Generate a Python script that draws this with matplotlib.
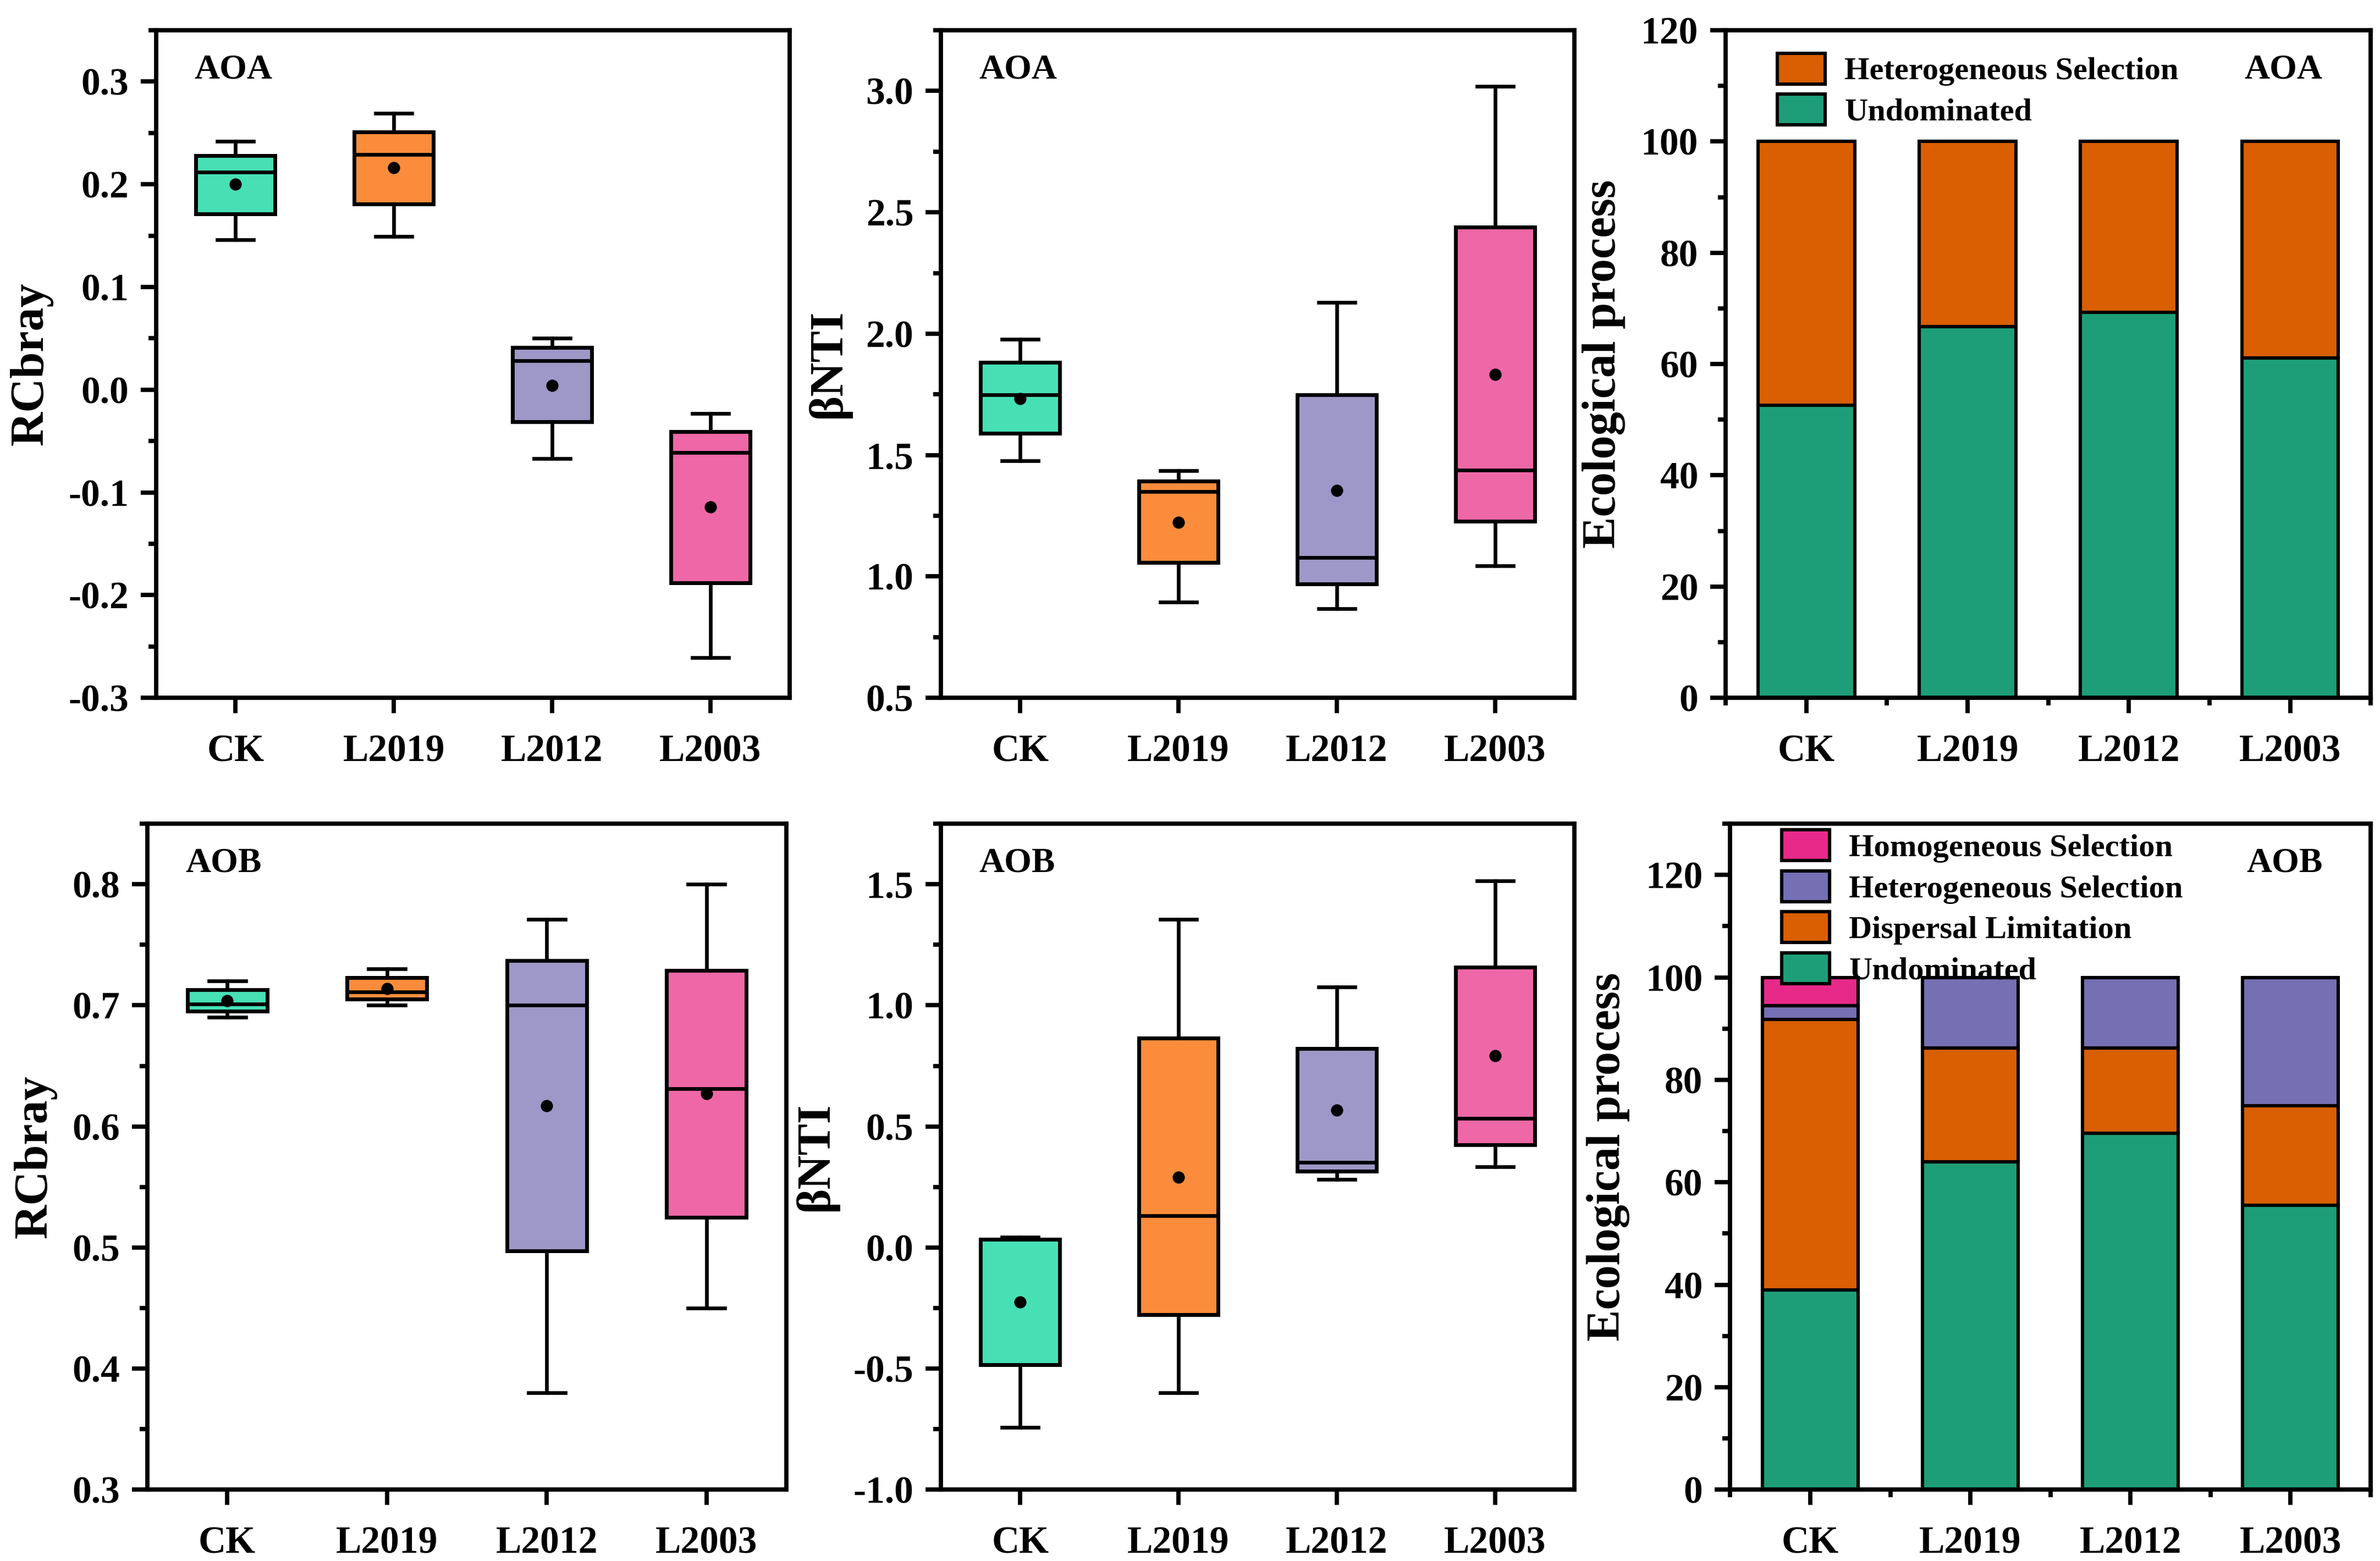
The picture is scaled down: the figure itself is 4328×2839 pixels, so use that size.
import numpy as np
import matplotlib
matplotlib.use('Agg')
from matplotlib import pyplot as plt
from matplotlib.ticker import AutoMinorLocator, FixedLocator, MultipleLocator
from matplotlib.patches import Patch

plt.rcParams['font.family'] = ['Liberation Serif', 'DejaVu Serif']
plt.rcParams['font.weight'] = 'bold'
plt.rcParams['axes.labelweight'] = 'bold'

groups = ['CK', 'L2019', 'L2012', 'L2003']
box_colors = ['#47E0B5', '#FB8C3C', '#9E98C8', '#EE67A6']

# box stats: whislo, q1, med, q3, whishi, mean
rc_aoa = [[0.146, 0.171, 0.212, 0.228, 0.242, 0.200],
          [0.149, 0.181, 0.229, 0.251, 0.269, 0.216],
          [-0.067, -0.031, 0.028, 0.041, 0.050, 0.004],
          [-0.261, -0.188, -0.061, -0.041, -0.023, -0.114]]
nti_aoa = [[1.477, 1.589, 1.749, 1.881, 1.978, 1.733],
           [0.894, 1.058, 1.349, 1.392, 1.436, 1.223],
           [0.866, 0.969, 1.077, 1.749, 2.129, 1.355],
           [1.044, 1.227, 1.438, 2.439, 3.018, 1.832]]
rc_aob = [[0.690, 0.695, 0.701, 0.713, 0.720, 0.704],
          [0.700, 0.705, 0.711, 0.723, 0.730, 0.714],
          [0.380, 0.497, 0.700, 0.737, 0.771, 0.617],
          [0.450, 0.525, 0.631, 0.729, 0.800, 0.627]]
nti_aob = [[-0.743, -0.483, 0.034, 0.034, 0.042, -0.224],
           [-0.600, -0.277, 0.131, 0.864, 1.356, 0.291],
           [0.281, 0.316, 0.351, 0.822, 1.076, 0.567],
           [0.334, 0.425, 0.534, 1.158, 1.514, 0.792]]

# ecological process (%)
aoa_undom = [52.6, 66.7, 69.3, 61.1]
aoa_hetero = [47.4, 33.3, 30.7, 38.9]
aob_undom = [39.0, 64.0, 69.6, 55.5]
aob_disp = [52.8, 22.2, 16.6, 19.5]
aob_hetero = [2.7, 13.8, 13.8, 25.0]
aob_homo = [5.5, 0.0, 0.0, 0.0]

c_undom = '#1E9E78'
c_disp = '#D95F02'
c_hetero = '#7570B3'
c_homo = '#E7298A'

fig = plt.figure(figsize=(21.64, 14.195), dpi=200)

LW = 2.8
TICK_FS = 25
LAB_FS = 31


def style(ax):
    for s in ax.spines.values():
        s.set_linewidth(LW)
    ax.tick_params(axis='both', which='major', direction='out', length=10,
                   width=LW, labelsize=TICK_FS, pad=8)
    ax.tick_params(axis='both', which='minor', direction='out', length=5,
                   width=LW)
    ax.tick_params(axis='x', pad=14)


def boxpanel(rect, data, ylim, step, ylabel, tag):
    ax = fig.add_axes(rect)
    stats = []
    for d in data:
        stats.append(dict(whislo=d[0], q1=d[1], med=d[2], q3=d[3],
                          whishi=d[4], mean=d[5], fliers=[]))
    bp = ax.bxp(stats, positions=[1, 2, 3, 4], widths=0.5, patch_artist=True,
                showmeans=True, capwidths=0.23,
                boxprops=dict(linewidth=2.5, edgecolor='black'),
                medianprops=dict(color='black', linewidth=2.4),
                whiskerprops=dict(color='black', linewidth=2.4),
                capprops=dict(color='black', linewidth=2.4),
                meanprops=dict(marker='o', markerfacecolor='black',
                               markeredgecolor='black', markersize=7))
    for patch, c in zip(bp['boxes'], box_colors):
        patch.set_facecolor(c)
    ax.set_xlim(0.5, 4.5)
    ax.set_ylim(*ylim)
    ax.yaxis.set_major_locator(MultipleLocator(step))
    ax.yaxis.set_minor_locator(AutoMinorLocator(2))
    ax.set_xticks([1, 2, 3, 4])
    ax.set_xticklabels(groups)
    ax.yaxis.set_major_formatter(matplotlib.ticker.FormatStrFormatter('%.1f'))
    ax.set_ylabel(ylabel, fontsize=LAB_FS, labelpad=10)
    ax.text(0.06, 0.94, tag, transform=ax.transAxes, fontsize=23,
            fontweight='bold', va='center', ha='left')
    style(ax)
    return ax


def barpanel(rect, layers, ylim, tag, leg_y):
    ax = fig.add_axes(rect)
    x = np.arange(1, 5)
    bottom = np.zeros(4)
    handles = []
    for vals, c, name in layers:
        ax.bar(x, vals, width=0.6, bottom=bottom, color=c, edgecolor='black',
               linewidth=2.2)
        bottom = bottom + np.array(vals)
        handles.append(Patch(facecolor=c, edgecolor='black', linewidth=2.2,
                             label=name))
    ax.set_xlim(0.5, 4.5)
    ax.set_ylim(*ylim)
    ax.yaxis.set_major_locator(MultipleLocator(20))
    ax.yaxis.set_minor_locator(MultipleLocator(10))
    ax.set_xticks(x)
    ax.set_xticklabels(groups)
    ax.xaxis.set_minor_locator(FixedLocator([0.5, 1.5, 2.5, 3.5, 4.5]))
    ax.set_ylabel('Ecological process', fontsize=LAB_FS, labelpad=10)
    ax.text(0.925, 0.94, tag, transform=ax.transAxes, fontsize=23,
            fontweight='bold', va='center', ha='right')
    ax.legend(handles=handles[::-1], loc='upper left',
              bbox_to_anchor=(0.06, leg_y), frameon=False,
              fontsize=21, handlelength=1.5, handleheight=1.1,
              labelspacing=0.25, handletextpad=0.6, borderaxespad=0)
    style(ax)
    return ax


boxpanel([0.0657, 0.553, 0.266, 0.4276], rc_aoa, (-0.3, 0.35), 0.1,
         'RCbray', 'AOA')
boxpanel([0.3954, 0.553, 0.266, 0.4276], nti_aoa, (0.5, 3.25), 0.5,
         'βNTI', 'AOA')
barpanel([0.7251, 0.553, 0.271, 0.4276],
         [(aoa_undom, c_undom, 'Undominated'),
          (aoa_hetero, c_disp, 'Heterogeneous Selection')],
         (0, 120), 'AOA', 0.985)

boxpanel([0.0619, 0.0457, 0.2685, 0.4266], rc_aob, (0.3, 0.85), 0.1,
         'RCbray', 'AOB')
boxpanel([0.3954, 0.0457, 0.266, 0.4266], nti_aob, (-1.0, 1.75), 0.5,
         'βNTI', 'AOB')
barpanel([0.727, 0.0457, 0.269, 0.4266],
         [(aob_undom, c_undom, 'Undominated'),
          (aob_disp, c_disp, 'Dispersal Limitation'),
          (aob_hetero, c_hetero, 'Heterogeneous Selection'),
          (aob_homo, c_homo, 'Homogeneous Selection')],
         (0, 130), 'AOB', 1.01)

fig.savefig('out.png', dpi=200)
